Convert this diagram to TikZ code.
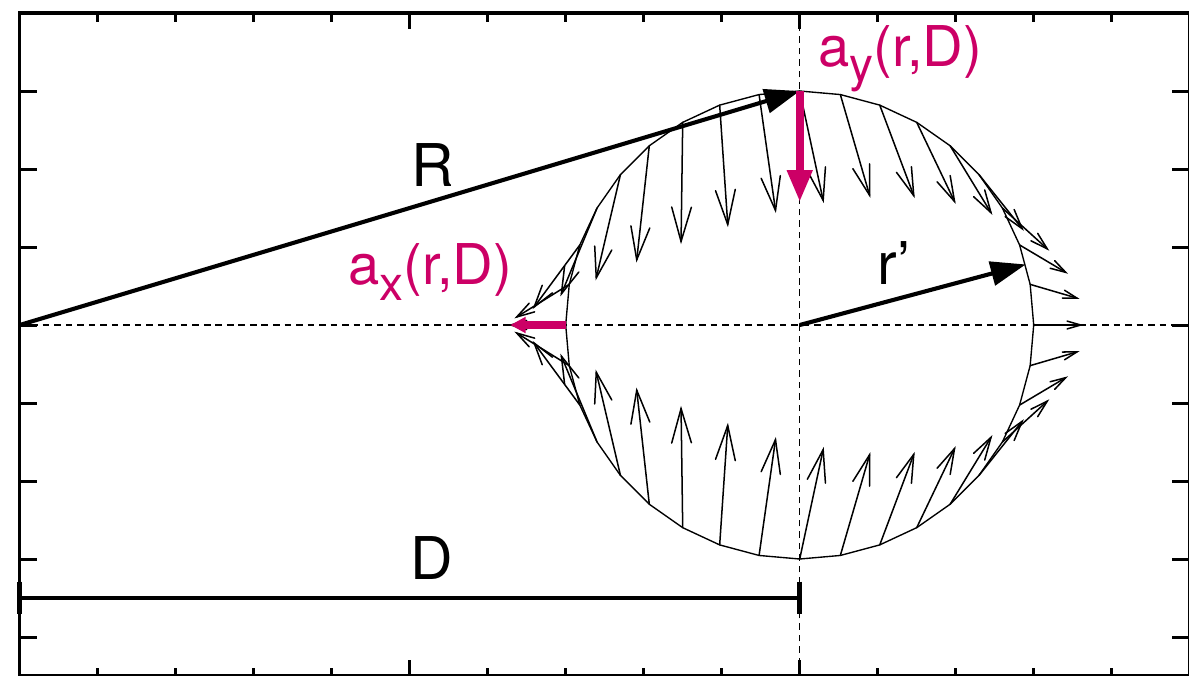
\documentclass[tikz,border=0pt]{standalone}
\usepackage{fontspec}
\setmainfont{TeX Gyre Heros}
\usetikzlibrary{arrows.meta}
\definecolor{pinkc}{RGB}{204,0,102}
\begin{document}
\begin{tikzpicture}[x=1cm,y=1cm,
  frame/.style={line width=1.2pt},
  tickmark/.style={line width=1.1pt},
  axisdash/.style={line width=0.45pt, dash pattern=on 2.4pt off 1.8pt},
  poly/.style={line width=0.5pt, line join=round},
  vec/.style={line width=0.55pt, line cap=round, line join=miter},
  bigarrow/.style={line width=1.5pt, -{Triangle[length=12.8pt,width=8.8pt]}},
  pinkbig/.style={line width=3pt, draw=pinkc, -{Triangle[length=11.7pt,width=8.6pt,fill=pinkc]}},
  pinksmall/.style={line width=3pt, draw=pinkc, -{Triangle[length=5.6pt,width=5.6pt,fill=pinkc]}},
  blabel/.style={font=\fontsize{21.5}{24}\selectfont, inner sep=0pt, anchor=base},
  plabel/.style={text=pinkc, font=\fontsize{20.5}{22}\selectfont, inner sep=0pt, anchor=base west},
]
\useasboundingbox (-0.2526,-4.4872) rectangle (14.9910,4.1667);

% frame and ticks
\draw[frame] (0,-4.5) rectangle (15,4);
\foreach \yy in {-4,...,3} {
  \draw[tickmark] (0,\yy) -- ++(0.224,0);
  \draw[tickmark] (15,\yy) -- ++(-0.224,0);
}
\foreach \xx in {1,2,3,4,6,7,8,9,11,12,13,14} {
  \draw[tickmark] (\xx,4) -- ++(0,-0.109);
  \draw[tickmark] (\xx,-4.5) -- ++(0,0.109);
}
\foreach \xx in {5,10} {
  \draw[tickmark] (\xx,4) -- ++(0,-0.2);
  \draw[tickmark] (\xx,-4.5) -- ++(0,0.2);
}

% dashed axes
\coordinate (O) at (0,0);
\coordinate (C) at (10,0);
\coordinate (Xend) at (15,0);
\coordinate (Vtop) at (10,4);
\coordinate (Vbot) at (10,-4.5);
\draw[axisdash] (O) -- (Xend);
\draw[axisdash] (Vbot) -- (Vtop);

% polygonal circle
\draw[poly] (13,0) \foreach \ang in {10,20,...,350}{ -- ({10+3*cos(\ang)},{3*sin(\ang)}) } -- cycle;

% thin vectors
\foreach \ang in {0,10,...,350} {
  \pgfmathsetmacro{\px}{10+3*cos(\ang)}
  \pgfmathsetmacro{\py}{3*sin(\ang)}
  \pgfmathsetmacro{\rr}{sqrt(\px*\px+\py*\py)}
  \pgfmathsetmacro{\ff}{(388-17*(\rr-10)+0.444*(\rr-10)*(\rr-10))/78}
  \pgfmathsetmacro{\ax}{388/78-\ff*\px/\rr}
  \pgfmathsetmacro{\ay}{-\ff*\py/\rr}
  \pgfmathsetmacro{\qx}{\px+\ax}
  \pgfmathsetmacro{\qy}{\py+\ay}
  \pgfmathsetmacro{\bxa}{\qx-0.3*(\ax*cos(16)-\ay*sin(16))}
  \pgfmathsetmacro{\bya}{\qy-0.3*(\ax*sin(16)+\ay*cos(16))}
  \pgfmathsetmacro{\bxb}{\qx-0.3*(\ax*cos(16)+\ay*sin(16))}
  \pgfmathsetmacro{\byb}{\qy-0.3*(-\ax*sin(16)+\ay*cos(16))}
  \coordinate (v\ang) at (\px,\py);
  \coordinate (w\ang) at (\qx,\qy);
  \coordinate (ba\ang) at (\bxa,\bya);
  \coordinate (bb\ang) at (\bxb,\byb);
  \draw[vec] (v\ang) -- (w\ang);
  \draw[vec] (ba\ang) -- (w\ang) -- (bb\ang);
}

% R and r' vectors
\coordinate (T) at (10,3);
\coordinate (Rp) at ({10+3*cos(15)},{3*sin(15)});
\draw[bigarrow] (O) -- (T);
\draw[bigarrow] (C) -- (Rp);

% D bar
\coordinate (D0) at (0,-3.5);
\coordinate (D1) at (10,-3.5);
\draw[line width=1.5pt] (D0) -- (D1);
\draw[line width=1.8pt] ([yshift=0.21cm]D0) -- ([yshift=-0.21cm]D0);
\draw[line width=1.8pt] ([yshift=0.21cm]D1) -- ([yshift=-0.21cm]D1);

% pink component arrows
\coordinate (L) at (7,0);
\coordinate (axtip) at (6.29,0);
\coordinate (aytip) at (10,1.573);
\draw[pinkbig] (T) -- (aytip);
\draw[pinksmall] (L) -- (axtip);

% labels
\node[blabel] (labR) at (5.29,1.773) {R};
\node[blabel] (labD) at (5.28,-3.26) {D};
\node[blabel, anchor=base west] (labr) at (10.99,0.513) {r’};
\node[plabel] (labay) at (10.235,3.3115) {a\raisebox{-5.5pt}{\fontsize{17.5}{18}\selectfont y}(r,D)};
\node[plabel] (labax) at (4.209,0.513) {a\raisebox{-5.5pt}{\fontsize{17.5}{18}\selectfont x}(r,D)};
\end{tikzpicture}
\end{document}
